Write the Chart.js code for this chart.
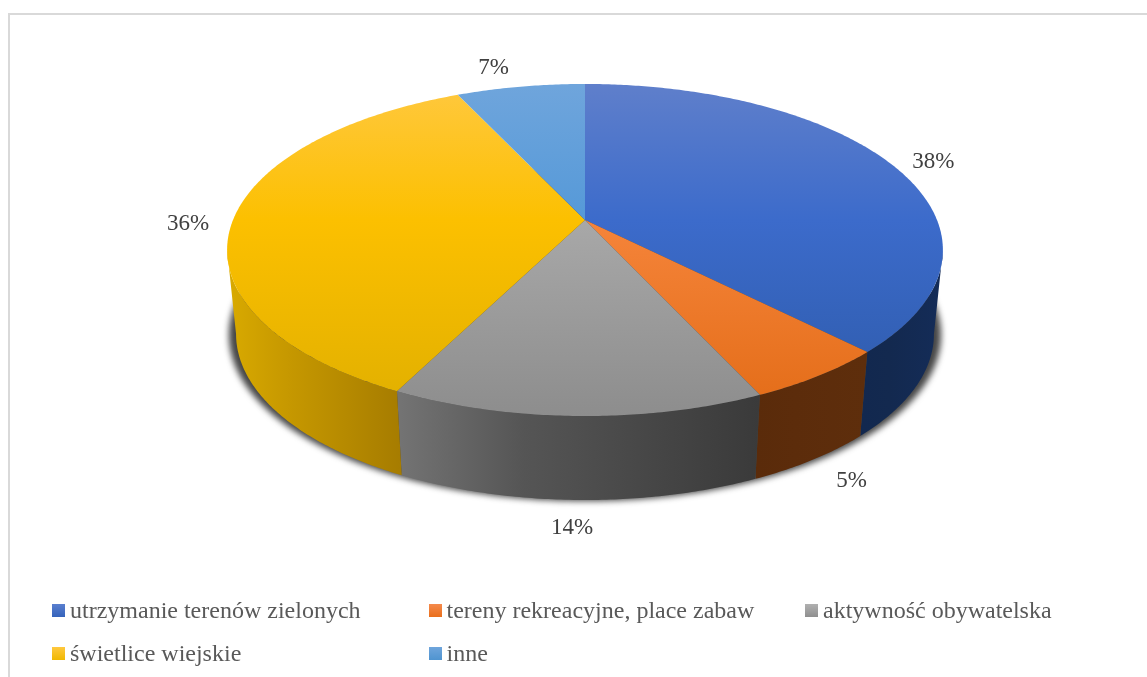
<!DOCTYPE html>
<html>
<head>
<meta charset="utf-8">
<style>
  html, body { margin: 0; background: #fff; overflow: hidden; }
  #frame { position: absolute; left: 8px; top: 13px; right: 0; bottom: 0; border-left: 2px solid #d9d9d9; border-top: 2px solid #d9d9d9; }
  #pie { position: absolute; left: 0; top: 0; }
  #legend { position: absolute; left: 52px; top: 589px; display: grid; grid-template-columns: repeat(3, 376.5px); grid-auto-rows: 43px;
    font: 24px "Liberation Serif", serif; color: #595959; }
  #legend div { display: flex; align-items: center; white-space: nowrap; }
  #legend i { display: block; width: 13px; height: 13px; margin-right: 5px; }
</style>
<script src="https://cdn.jsdelivr.net/npm/chart.js@4"></script>
</head>
<body>
<div id="frame"></div>
<canvas id="pie" width="1147" height="677"></canvas>
<div id="legend"></div>
<script>
// Data
const categories = ["utrzymanie terenów zielonych", "tereny rekreacyjne, place zabaw", "aktywność obywatelska", "świetlice wiejskie", "inne"];
const shares = [37.7, 5.49, 14.2, 35.7, 6.91];

// Colours: top face [far, middle, near], side [left, middle, right]
const topColors = [
    ["#5f7fcb", "#3c6bcb", "#2d5aa9"],
    ["#ffa36b", "#f5843a", "#e36c17"],
    ["#c0c0c0", "#a8a8a8", "#8d8d8d"],
    ["#ffc83f", "#fcc000", "#e0af00"],
    ["#6fa5dc", "#5599d8", "#4a8cc8"]
];
const sideColors = [
    ["#12284f", "#13294f", "#142c58"],
    ["#5a2b0a", "#5c2c0b", "#5e2e0c"],
    ["#747474", "#555555", "#3a3a3a"],
    ["#d9aa00", "#c69800", "#a67c00"],
    ["#3a6a94", "#3a6a94", "#3a6a94"]
];
const swatches = [
    ["#5a7fcf", "#3563bb"],
    ["#f58a4c", "#e96f1c"],
    ["#b0b0b0", "#8f8f8f"],
    ["#ffc83f", "#f0b800"],
    ["#6fa5dc", "#4f94d0"]
];
// label shift from the slice's projected rim point
const labelNudge = [[43, -1], [33, 21], [-5, 28], [-46, 6], [-27, -19]];

// Tilted disc, with perspective so the centre sits above the middle of the ellipse
const CX = 585, CY = 220, AX = 352, BY = 160.6, K = 0.1807;
const DEPTH = 84, BOTTOM_SCALE = 0.975;
// angle where the rim turns from the back of the disc to the front
const RIM_TURN = Math.asin(K);

function project(a, r) {
    const u = Math.cos(a) * r, v = Math.sin(a) * r;
    const w = 1 - K * v;
    return { x: CX + AX * u / w, y: CY + BY * v / w };
}
function lower(p) {
    return { x: CX + (p.x - CX) * BOTTOM_SCALE, y: p.y + DEPTH };
}
function arcPoints(start, end) {
    const n = Math.max(2, Math.ceil((end - start) / 0.01));
    const pts = [];
    for (let i = 0; i <= n; i++) pts.push(project(start + (end - start) * i / n, 1));
    return pts;
}
function tracePath(ctx, pts) {
    ctx.beginPath();
    pts.forEach((p, i) => i ? ctx.lineTo(p.x, p.y) : ctx.moveTo(p.x, p.y));
    ctx.closePath();
}

const disc3d = {
    id: "disc3d",
    // replaces the flat drawing of the arcs, angles still come from the controller
    beforeDatasetsDraw(chart) {
        const ctx = chart.ctx;
        const arcs = chart.getDatasetMeta(0).data;

        // soft shadow under the disc
        const full = arcPoints(0, Math.PI * 2);
        ctx.save();
        ctx.filter = "blur(3px)";
        ctx.fillStyle = "rgba(50,50,50,0.9)";
        tracePath(ctx, full.map(p => ({ x: CX + (p.x - CX) * 0.995, y: p.y + DEPTH + 1 })));
        ctx.fill();
        ctx.restore();

        // side wall, only the part of the rim facing the viewer
        arcs.forEach((arc, i) => {
            const start = Math.max(arc.startAngle, RIM_TURN);
            const end = Math.min(arc.endAngle, Math.PI - RIM_TURN);
            if (end <= start) return;
            const pts = arcPoints(start, end);
            const low = pts.map(lower).reverse();
            const xs = pts.concat(low).map(p => p.x);
            const g = ctx.createLinearGradient(Math.min(...xs), 0, Math.max(...xs), 0);
            g.addColorStop(0, sideColors[i][0]);
            g.addColorStop(0.35, sideColors[i][1]);
            g.addColorStop(1, sideColors[i][2]);
            tracePath(ctx, pts.concat(low));
            ctx.fillStyle = g;
            ctx.fill();
        });

        // top face
        arcs.forEach((arc, i) => {
            const g = ctx.createLinearGradient(0, 84, 0, 416);
            g.addColorStop(0, topColors[i][0]);
            g.addColorStop(0.41, topColors[i][1]);
            g.addColorStop(1, topColors[i][2]);
            tracePath(ctx, [{ x: CX, y: CY }].concat(arcPoints(arc.startAngle, arc.endAngle)));
            ctx.fillStyle = g;
            ctx.fill();
        });

        // percent labels
        ctx.font = '23px "Liberation Serif", serif';
        ctx.fillStyle = "#404040";
        ctx.textAlign = "center";
        ctx.textBaseline = "middle";
        arcs.forEach((arc, i) => {
            const mid = (arc.startAngle + arc.endAngle) / 2;
            const p = project(mid, 1);
            const front = Math.sin(mid) > 0 ? DEPTH : 0;
            ctx.fillText(Math.round(shares[i]) + "%", p.x + labelNudge[i][0], p.y + front + labelNudge[i][1]);
        });
        return false;
    }
};

new Chart(document.getElementById("pie"), {
    type: "pie",
    data: { labels: categories, datasets: [{ data: shares }] },
    options: {
        responsive: false,
        animation: false,
        events: [],
        plugins: { legend: { display: false }, tooltip: { enabled: false } }
    },
    plugins: [disc3d]
});

// Legend
const legend = document.getElementById("legend");
categories.forEach((c, i) => {
    const item = document.createElement("div");
    const box = document.createElement("i");
    box.style.background = `linear-gradient(${swatches[i][0]}, ${swatches[i][1]})`;
    item.appendChild(box);
    item.appendChild(document.createTextNode(c));
    legend.appendChild(item);
});
</script>
</body>
</html>
